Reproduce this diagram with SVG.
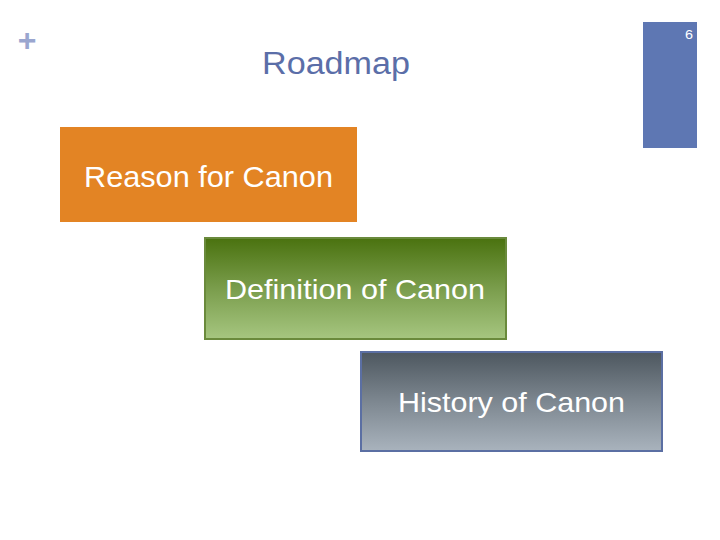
<svg xmlns="http://www.w3.org/2000/svg" width="720" height="540" viewBox="0 0 720 540">
<style>
.lbl{font-family:"Liberation Sans",Arial,sans-serif;fill:#ffffff;lengthAdjust:spacingAndGlyphs}
</style>
<defs>
<linearGradient id="gGreen" x1="0" y1="0" x2="0" y2="1">
<stop offset="0" stop-color="#4a720f"/>
<stop offset="0.5" stop-color="#7a9d4c"/>
<stop offset="1" stop-color="#a6c680"/>
</linearGradient>
<linearGradient id="gGray" x1="0" y1="0" x2="0" y2="1">
<stop offset="0" stop-color="#4d575f"/>
<stop offset="0.5" stop-color="#7d8790"/>
<stop offset="1" stop-color="#a9b3bd"/>
</linearGradient>
</defs>
<rect width="720" height="540" fill="#ffffff"/>
<rect x="643" y="22" width="54" height="126" fill="#5e77b3"/>
<text x="685" y="39" font-family="Liberation Sans,Arial,sans-serif" font-size="13" fill="#ffffff" textLength="8" lengthAdjust="spacingAndGlyphs">6</text>
<text x="27" y="51" font-family="Liberation Sans,Arial,sans-serif" font-size="32" font-weight="bold" fill="#9aa6cf" text-anchor="middle">+</text>
<text x="262" y="74" font-family="Liberation Sans,Arial,sans-serif" font-size="31" fill="#5b6ea8" textLength="148" lengthAdjust="spacingAndGlyphs">Roadmap</text>
<g id="connectors"></g>
<g id="reason">
<rect x="60" y="127" width="297" height="95" fill="#e38424"/>
<text class="lbl" x="84" y="187" font-size="29" textLength="249" lengthAdjust="spacingAndGlyphs">Reason for Canon</text>
</g>
<g id="definition">
<rect x="205" y="238" width="301" height="101" fill="url(#gGreen)" stroke="#6a8a3c" stroke-width="2"/>
<text class="lbl" x="225" y="299" font-size="28" textLength="260" lengthAdjust="spacingAndGlyphs">Definition of Canon</text>
</g>
<g id="history">
<rect x="361" y="352" width="301" height="99" fill="url(#gGray)" stroke="#5b6fa3" stroke-width="2"/>
<text class="lbl" x="398" y="412" font-size="28" textLength="227" lengthAdjust="spacingAndGlyphs">History of Canon</text>
</g>
</svg>
